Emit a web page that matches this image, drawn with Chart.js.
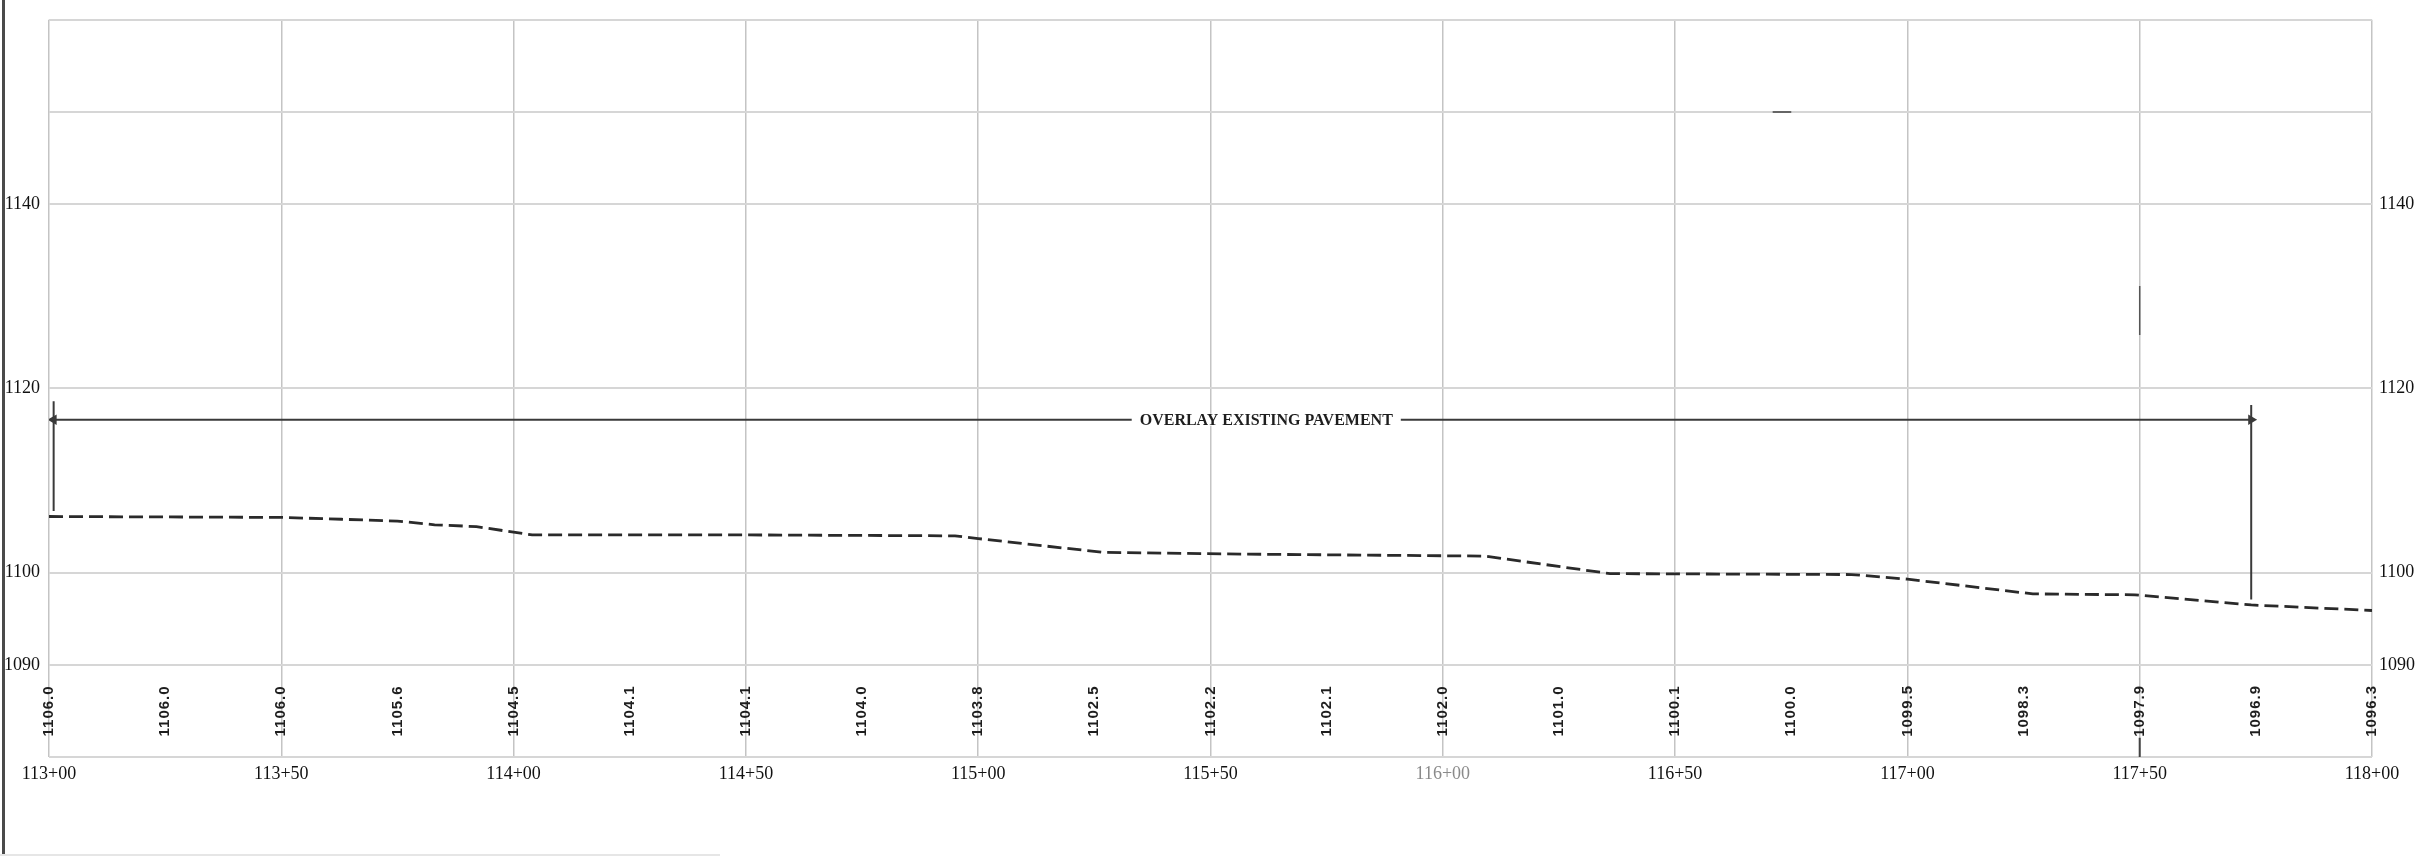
<!DOCTYPE html>
<html>
<head>
<meta charset="utf-8">
<script src="https://cdn.jsdelivr.net/npm/chart.js@4.4.1/dist/chart.umd.min.js"></script>
<style>
  html, body { margin: 0; padding: 0; background: #fff; }
  #wrap { position: relative; width: 2422px; height: 856px; overflow: hidden; }
  #edge { position: absolute; left: 2px; top: 0; width: 3px; height: 856px; background: #4a4a4a; }
  #foot { position: absolute; left: 0; bottom: 0; width: 720px; height: 2px; background: #e6e6e6; }
</style>
</head>
<body>
<div id="wrap">
  <canvas id="profileChart" width="2422" height="856"></canvas>
  <div id="edge"></div>
  <div id="foot"></div>
</div>
<script>
// existing ground profile (dashed), station in ft / elevation in ft
const profileStations = [11300, 11350, 11363, 11375, 11383, 11392, 11404, 11450, 11495, 11500,
                         11527, 11561, 11609, 11636, 11688, 11700, 11727, 11749, 11774, 11800];
const profileElevs    = [1106.1, 1106.0, 1105.8, 1105.6, 1105.2, 1105.0, 1104.1, 1104.1, 1104.0, 1103.7,
                         1102.2, 1102.0, 1101.8, 1099.9, 1099.8, 1099.3, 1097.7, 1097.6, 1096.5, 1095.9];

// elevations printed every 25 ft along the bottom band
const labelStations = [11300, 11325, 11350, 11375, 11400, 11425, 11450, 11475, 11500, 11525, 11550,
                       11575, 11600, 11625, 11650, 11675, 11700, 11725, 11750, 11775, 11800];
const labelElevs    = [1106.0, 1106.0, 1106.0, 1105.6, 1104.5, 1104.1, 1104.1, 1104.0, 1103.8, 1102.5, 1102.2,
                       1102.1, 1102.0, 1101.0, 1100.1, 1100.0, 1099.5, 1098.3, 1097.9, 1096.9, 1096.3];

// "overlay existing pavement" callout
const overlayText = "OVERLAY EXISTING PAVEMENT";
const overlayStart = 11301;
const overlayEnd = 11774;
const overlayElev = 1116.6;
const overlayTextStation = 11562;
const leftTick = [1118.6, 1106.7];
const rightTick = [1118.2, 1097.1];

// stray marks on the sheet
const strayDash = { x: [11671, 11675], y: [1150, 1150] };
const strayUpper = { x: [11750, 11750], y: [1131.1, 1125.8] };
const strayLower = { x: [11750, 11750], y: [1082.1, 1080] };

// axes
const stationMin = 11300;
const stationMax = 11800;
const stationStep = 50;
const elevMin = 1080;
const elevMax = 1160;
const elevGrid = [1080, 1090, 1100, 1120, 1140, 1150, 1160];
const elevLabels = [1090, 1100, 1120, 1140];

function toPoints(xs, ys) {
    return xs.map((v, i) => ({ x: v, y: ys[i] }));
}

function stationText(v) {
    const hundreds = Math.floor(v / 100);
    const rest = v % 100;
    return hundreds + "+" + (rest < 10 ? "0" + rest : rest);
}

const profileLabels = {
    id: "profileLabels",
    afterDatasetsDraw(chart) {
        const ctx = chart.ctx;
        const x = chart.scales.x;
        const y = chart.scales.y;
        ctx.save();

        // vertical elevation labels in the band under 1090
        const bandY = (y.getPixelForValue(1080) + y.getPixelForValue(1090)) / 2;
        ctx.font = "bold 15px 'Liberation Sans', Arial, sans-serif";
        ctx.letterSpacing = "1px";
        ctx.fillStyle = "#1e1e1e";
        ctx.textAlign = "center";
        ctx.textBaseline = "middle";
        labelStations.forEach((s, i) => {
            ctx.save();
            ctx.translate(x.getPixelForValue(s), bandY);
            ctx.rotate(-Math.PI / 2);
            ctx.fillText(labelElevs[i].toFixed(1), 0, 0);
            ctx.restore();
        });

        // callout text sitting in a gap of the dimension line
        ctx.letterSpacing = "0px";
        ctx.font = "bold 16px 'Liberation Serif', 'Times New Roman', serif";
        const tx = x.getPixelForValue(overlayTextStation);
        const ty = y.getPixelForValue(overlayElev);
        const w = ctx.measureText(overlayText).width;
        ctx.fillStyle = "#fff";
        ctx.fillRect(tx - w / 2 - 8, ty - 6, w + 16, 12);
        ctx.fillStyle = "#1e1e1e";
        ctx.fillText(overlayText, tx, ty + 1);

        ctx.restore();
    }
};

const ctx1 = document.getElementById("profileChart").getContext("2d");

const profileChart = new Chart(ctx1, {
    type: "line",
    data: {
        datasets: [
            {
                label: "Existing ground",
                data: toPoints(profileStations, profileElevs),
                borderColor: "#2a2a2a",
                borderWidth: 2.8,
                borderDash: [14, 6],
                pointRadius: 0,
                tension: 0
            },
            {
                label: "Overlay limits",
                data: toPoints([overlayStart, overlayEnd], [overlayElev, overlayElev]),
                borderColor: "#3a3a3a",
                backgroundColor: "#3a3a3a",
                borderWidth: 2,
                pointStyle: "triangle",
                pointRadius: 4,
                pointRotation: [-90, 90],
                tension: 0
            },
            {
                label: "Left tick",
                data: toPoints([overlayStart, overlayStart], leftTick),
                borderColor: "#3a3a3a",
                borderWidth: 2,
                pointRadius: 0
            },
            {
                label: "Right tick",
                data: toPoints([overlayEnd, overlayEnd], rightTick),
                borderColor: "#3a3a3a",
                borderWidth: 2,
                pointRadius: 0
            },
            {
                label: "dash",
                data: toPoints(strayDash.x, strayDash.y),
                borderColor: "#666",
                borderWidth: 2,
                pointRadius: 0
            },
            {
                label: "mark upper",
                data: toPoints(strayUpper.x, strayUpper.y),
                borderColor: "#555",
                borderWidth: 1.5,
                pointRadius: 0
            },
            {
                label: "mark lower",
                data: toPoints(strayLower.x, strayLower.y),
                borderColor: "#444",
                borderWidth: 2,
                pointRadius: 0
            }
        ]
    },
    options: {
        responsive: false,
        animation: false,
        layout: { padding: { top: 14, left: 0, right: 0, bottom: 0 } },
        plugins: {
            legend: { display: false },
            tooltip: { enabled: false }
        },
        scales: {
            x: {
                type: "linear",
                min: stationMin,
                max: stationMax,
                border: { display: false },
                grid: { color: "#c4c4c4", lineWidth: 1.5, drawTicks: false },
                ticks: {
                    stepSize: stationStep,
                    autoSkip: false,
                    maxRotation: 0,
                    padding: 6,
                    font: { family: "'Liberation Serif', 'Times New Roman', serif", size: 18 },
                    color: (c) => c.tick && c.tick.value === 11600 ? "#8a8a8a" : "#111",
                    callback: (v) => stationText(v)
                },
                afterFit: (s) => { s.height = 99; }
            },
            y: {
                position: "left",
                min: elevMin,
                max: elevMax,
                border: { display: false },
                grid: { color: "#d6d6d6", lineWidth: 2, drawTicks: false },
                afterBuildTicks: (s) => { s.ticks = elevGrid.map(v => ({ value: v })); },
                ticks: {
                    padding: 9,
                    font: { family: "'Liberation Serif', 'Times New Roman', serif", size: 18 },
                    color: "#111",
                    callback: (v) => elevLabels.includes(v) ? String(v) : ""
                },
                afterFit: (s) => { s.width = 49; }
            },
            y2: {
                position: "right",
                min: elevMin,
                max: elevMax,
                border: { display: false },
                grid: { display: false, drawTicks: false },
                afterBuildTicks: (s) => { s.ticks = elevGrid.map(v => ({ value: v })); },
                ticks: {
                    padding: 7,
                    font: { family: "'Liberation Serif', 'Times New Roman', serif", size: 18 },
                    color: "#111",
                    callback: (v) => elevLabels.includes(v) ? String(v) : ""
                },
                afterFit: (s) => { s.width = 50; }
            }
        }
    },
    plugins: [profileLabels]
});
</script>
</body>
</html>
